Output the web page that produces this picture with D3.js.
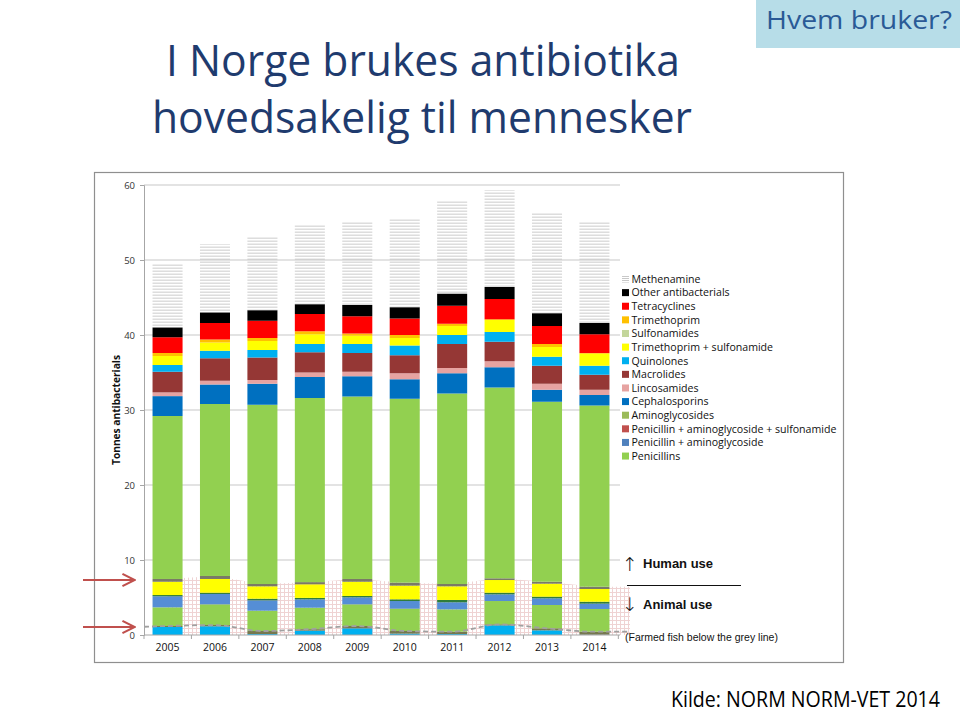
<!DOCTYPE html>
<html><head><meta charset="utf-8">
<script src="https://cdn.jsdelivr.net/npm/d3@7"></script>
<style>body{margin:0;background:#fff}svg{display:block}</style>
</head><body>
<svg id="c" width="960" height="717"></svg>
<script>
const years = ["2005","2006","2007","2008","2009","2010","2011","2012","2013","2014"];
// Animal use (bottom of each bar), tonnes
const animFishQuinolones = [1.07,1.16,0.13,0.58,0.89,0.18,0.13,1.29,0.62,0.03];
const animFishOther      = [0.13,0.17,0.40,0.20,0.31,0.35,0.31,0.13,0.27,0.41];
const animPenicillins    = [2.49,2.76,2.71,2.86,2.89,2.98,2.98,3.11,3.11,3.03];
const animPenAmino       = [1.47,1.38,1.38,1.11,0.93,1.02,0.94,0.89,0.89,0.71];
const animAminoglyc      = [0.17,0.17,0.22,0.20,0.18,0.23,0.31,0.22,0.22,0.26];
const animTmpSulfa       = [1.77,1.83,1.65,1.81,1.90,1.82,1.82,1.69,1.73,1.69];
const animOther          = [0.37,0.40,0.31,0.29,0.37,0.40,0.31,0.23,0.26,0.31];
// Human use (stacked above), tonnes
const humPenicillins     = [21.73,22.93,23.90,24.55,24.33,24.52,25.40,25.44,24.00,24.16];
const humCephalosporins  = [2.65,2.60,2.80,2.80,2.70,2.60,2.70,2.70,1.60,1.40];
const humLincosamides    = [0.50,0.50,0.50,0.60,0.60,0.80,0.70,0.80,0.80,0.70];
const humMacrolides      = [2.75,3.00,3.00,2.70,2.50,2.40,3.20,2.60,2.40,2.00];
const humQuinolones      = [0.90,1.00,1.00,1.10,1.20,1.30,1.20,1.30,1.20,1.20];
const humTmpSulfa        = [1.20,1.10,1.20,1.30,1.10,1.00,1.20,1.60,1.30,1.60];
const humTrimethoprim    = [0.40,0.40,0.40,0.40,0.30,0.40,0.30,0.10,0.40,0.10];
const humTetracyclines   = [2.10,2.20,2.30,2.30,2.30,2.20,2.40,2.70,2.40,2.50];
const humOther           = [1.30,1.40,1.40,1.30,1.50,1.50,1.60,1.60,1.70,1.50];
const humMethenamine     = [8.50,9.10,9.80,10.60,11.20,11.90,12.40,12.90,13.40,13.60];
const yTicks = [0,10,20,30,40,50,60];
const legendLabels = ["Methenamine","Other antibacterials","Tetracyclines","Trimethoprim","Sulfonamides",
  "Trimethoprim + sulfonamide","Quinolones","Macrolides","Lincosamides","Cephalosporins","Aminoglycosides",
  "Penicillin + aminoglycoside + sulfonamide","Penicillin + aminoglycoside","Penicillins"];
const legendColors = ["url(#methL)","#000000","#ff0000","#ffc000","#c3d69b","#ffff00","#00b0f0","#953735",
  "#e6a3a1","#0070c0","#9bbb59","#c0504d","#4f81bd","#92d050"];

const series = [
  {v:animFishQuinolones,c:"#00b0f0"},
  {v:animFishOther,c:"#76784f"},
  {v:animPenicillins,c:"#92d050"},
  {v:animPenAmino,c:"#558ed5"},
  {v:animAminoglyc,c:"#2f7d3a"},
  {v:animTmpSulfa,c:"#ffff00"},
  {v:animOther,c:"#7a7a66"},
  {v:humPenicillins,c:"#92d050"},
  {v:humCephalosporins,c:"#0070c0"},
  {v:humLincosamides,c:"#e6a3a1"},
  {v:humMacrolides,c:"#953735"},
  {v:humQuinolones,c:"#00b0f0"},
  {v:humTmpSulfa,c:"#ffff00"},
  {v:humTrimethoprim,c:"#ffc000"},
  {v:humTetracyclines,c:"#ff0000"},
  {v:humOther,c:"#000000"},
  {v:humMethenamine,c:"url(#meth)"}
];

const svg = d3.select("#c");
const defs = svg.append("defs");
const pm = defs.append("pattern").attr("id","meth").attr("patternUnits","userSpaceOnUse").attr("width",4).attr("height",3);
pm.append("path").attr("d","M0,1.5 L1,0.8 L2,1.5 L3,0.8 L4,1.5").attr("stroke","#c4c4c4").attr("stroke-width",0.9).attr("fill","none");
const pmL = defs.append("pattern").attr("id","methL").attr("patternUnits","userSpaceOnUse").attr("width",3).attr("height",2);
pmL.append("rect").attr("width",3).attr("height",1).attr("fill","#c8c8c8");
const pg = defs.append("pattern").attr("id","grid").attr("patternUnits","userSpaceOnUse").attr("width",4).attr("height",4);
pg.append("rect").attr("width",4).attr("height",4).attr("fill","#fff");
pg.append("path").attr("d","M0,0.5 H4 M0.5,0 V4").attr("stroke","#efd3d3").attr("stroke-width",1);
const ah = defs.append("marker").attr("id","arr").attr("viewBox","0 0 10 10").attr("refX",8.5).attr("refY",5)
  .attr("markerWidth",7).attr("markerHeight",7).attr("orient","auto").attr("markerUnits","strokeWidth");
ah.append("path").attr("d","M1,1 L9,5 L1,9").attr("fill","none").attr("stroke","#c0504d").attr("stroke-width",1.4);

// Titles
function fitText(sel, w){ sel.attr("textLength", w).attr("lengthAdjust","spacingAndGlyphs"); }
svg.append("text").attr("x",166).attr("y",76).attr("font-family","Open Sans, sans-serif").attr("font-size",44)
  .attr("fill","#1f3b6e").text("I Norge brukes antibiotika").call(fitText,514);
svg.append("text").attr("x",152).attr("y",133).attr("font-family","Open Sans, sans-serif").attr("font-size",44)
  .attr("fill","#1f3b6e").text("hovedsakelig til mennesker").call(fitText,540);
svg.append("rect").attr("x",756).attr("y",0).attr("width",204).attr("height",48).attr("fill","#b7dde8");
svg.append("text").attr("x",766).attr("y",29).attr("font-family","Open Sans, sans-serif").attr("font-size",25)
  .attr("fill","#2a5a96").text("Hvem bruker?").call(fitText,186);
svg.append("text").attr("x",671).attr("y",707).attr("font-family","Open Sans, sans-serif").attr("font-size",21)
  .attr("fill","#000").text("Kilde: NORM NORM-VET 2014").call(fitText,269);

// Chart frame
svg.append("rect").attr("x",94.5).attr("y",172.5).attr("width",749).attr("height",490)
  .attr("fill","#fff").attr("stroke","#8f8f8f").attr("stroke-width",1.2);

const x = d3.scaleBand().domain(years).range([144,618]).paddingInner(0.367).paddingOuter(0.18);
const y = d3.scaleLinear().domain([0,60]).range([635,185]);

// gridlines
svg.append("g").selectAll("line").data(yTicks.filter(d=>d>0)).join("line")
  .attr("x1",144).attr("x2",620).attr("y1",d=>y(d)).attr("y2",d=>y(d)).attr("stroke","#c8c8c8").attr("stroke-width",1.2);

// animal totals / fish totals
const animTotal = years.map((_,i)=>animFishQuinolones[i]+animFishOther[i]+animPenicillins[i]+animPenAmino[i]+animAminoglyc[i]+animTmpSulfa[i]+animOther[i]);
const fishTotal = years.map((_,i)=>animFishQuinolones[i]+animFishOther[i]);
const cx = d => x(d)+x.bandwidth()/2;

// pink grid area for animal use
const areaPts = years.map((d,i)=>[cx(d),animTotal[i]]);
areaPts.push([630, animTotal[animTotal.length-1]]);
svg.append("path").datum(areaPts)
  .attr("d", d3.area().x(d=>d[0]).y0(y(0)).y1(d=>y(d[1])))
  .attr("fill","url(#grid)");

// stacked bars
const g = svg.append("g");
years.forEach((yr,i)=>{
  let base = 0;
  series.forEach(s=>{
    const v = s.v[i];
    g.append("rect").attr("x",x(yr)).attr("width",x.bandwidth())
      .attr("y",y(base+v)).attr("height",y(base)-y(base+v)).attr("fill",s.c);
    base += v;
  });
});

// fish dashed line
const fishPts = [[144,fishTotal[0]-0.1]].concat(years.map((d,i)=>[cx(d),fishTotal[i]])).concat([[630,fishTotal[fishTotal.length-1]]]);
svg.append("path").datum(fishPts)
  .attr("d", d3.line().x(d=>d[0]).y(d=>y(d[1])).curve(d3.curveMonotoneX))
  .attr("fill","none").attr("stroke","#a0a0a0").attr("stroke-width",1.8).attr("stroke-dasharray","5,3");

// axes
const yAxis = svg.append("g").attr("transform","translate(144,0)")
  .call(d3.axisLeft(y).tickValues(yTicks).tickSize(4).tickPadding(5));
yAxis.select(".domain").attr("stroke","#a6a6a6");
yAxis.selectAll(".tick line").attr("stroke","#a6a6a6");
yAxis.selectAll("text").attr("font-family","Open Sans, sans-serif").attr("font-size",9.5).attr("fill","#333");

const xAxis = svg.append("g").attr("transform","translate(0,635)")
  .call(d3.axisBottom(x).tickSize(0).tickPadding(9));
xAxis.select(".domain").attr("stroke","#a6a6a6").attr("d","M144,0H620");
xAxis.selectAll("text").attr("font-family","Open Sans, sans-serif").attr("font-size",10.5).attr("fill","#111");
svg.append("g").selectAll("line").data(d3.range(years.length+1)).join("line")
  .attr("x1",i=>144+i*x.step()).attr("x2",i=>144+i*x.step()).attr("y1",635).attr("y2",639).attr("stroke","#a6a6a6");

svg.append("text").attr("transform","translate(120,410) rotate(-90)").attr("text-anchor","middle")
  .attr("font-family","Open Sans, sans-serif").attr("font-size",10.5).attr("font-weight","bold").attr("fill","#111")
  .text("Tonnes antibacterials").call(fitText,110);

// legend
const lg = svg.append("g");
legendLabels.forEach((l,i)=>{
  const yy = 279 + i*13.62;
  lg.append("rect").attr("x",622).attr("y",yy-3.5).attr("width",7).attr("height",7).attr("fill",legendColors[i]);
  lg.append("text").attr("x",631.5).attr("y",yy+3.8).attr("font-family","Open Sans, sans-serif").attr("font-size",10.6)
    .attr("fill","#111").text(l);
});

// human / animal annotation
svg.append("text").attr("x",622).attr("y",571).attr("font-family","DejaVu Sans, sans-serif").attr("font-size",19).attr("font-weight","300").attr("fill","#111").text("\u2191");
svg.append("text").attr("x",643).attr("y",568).attr("font-family","Liberation Sans, Arial, sans-serif").attr("font-size",13).attr("font-weight","bold").attr("fill","#111").text("Human use");
svg.append("line").attr("x1",627).attr("x2",741).attr("y1",585.5).attr("y2",585.5).attr("stroke","#111").attr("stroke-width",1);
svg.append("text").attr("x",622).attr("y",611).attr("font-family","DejaVu Sans, sans-serif").attr("font-size",19).attr("font-weight","300").attr("fill","#111").text("\u2193");
svg.append("text").attr("x",643).attr("y",609).attr("font-family","Liberation Sans, Arial, sans-serif").attr("font-size",13).attr("font-weight","bold").attr("fill","#111").text("Animal use");
svg.append("text").attr("x",625).attr("y",641).attr("font-family","Liberation Sans, Arial, sans-serif").attr("font-size",10.5).attr("fill","#111").text("(Farmed fish below the grey line)");

// red arrows
[580,627].forEach(yy=>{
  svg.append("line").attr("x1",83).attr("x2",134).attr("y1",yy).attr("y2",yy)
    .attr("stroke","#c0504d").attr("stroke-width",2.2).attr("marker-end","url(#arr)");
});
</script>
</body></html>
